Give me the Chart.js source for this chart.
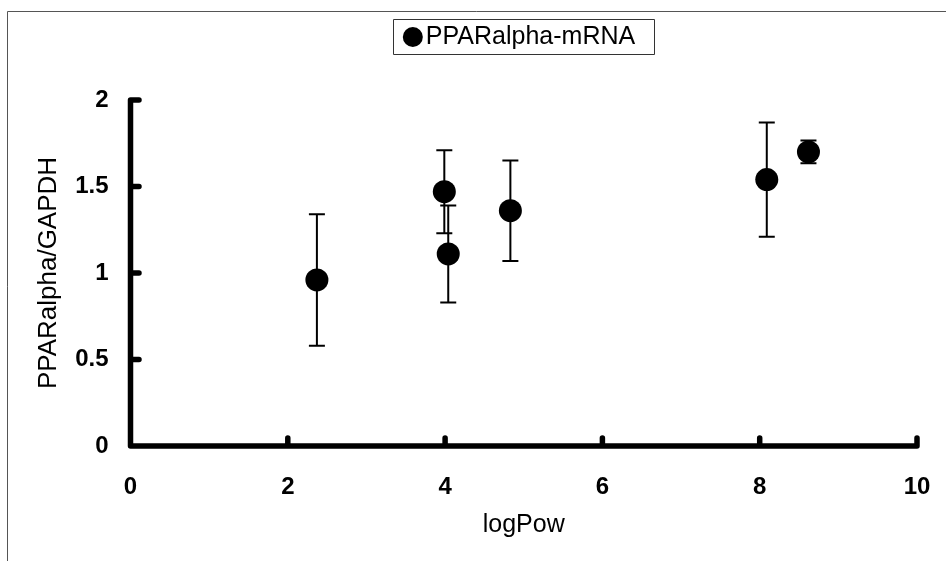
<!DOCTYPE html>
<html>
<head>
<meta charset="utf-8">
<script src="https://cdn.jsdelivr.net/npm/chart.js@4.4.1/dist/chart.umd.min.js"></script>
<style>
  html, body { margin: 0; padding: 0; background: #fff; }
  #wrap { width: 946px; height: 561px; position: relative; }
</style>
</head>
<body>
<div id="wrap"><canvas id="chart"></canvas></div>
<script>
// Data
const LOG_POW = [2.37, 3.99, 4.04, 4.83, 8.09, 8.62];
const RATIO = [0.96, 1.47, 1.11, 1.36, 1.54, 1.70];
const SD = [0.38, 0.24, 0.28, 0.29, 0.33, 0.066];
const X_TICKS = [0, 2, 4, 6, 8, 10];
const Y_TICKS = [0, 0.5, 1, 1.5, 2];
const SERIES_LABEL = 'PPARalpha-mRNA';
const X_TITLE = 'logPow';
const Y_TITLE = 'PPARalpha/GAPDH';

const FONT = "'Liberation Sans', Arial, sans-serif";

// push the plot below the legend (legend height override)
const legendSpacer = {
  id: 'legendSpacer',
  beforeInit(chart) {
    const lg = chart.legend;
    const origFit = lg.fit;
    lg.fit = function () {
      origFit.call(this);
      this.height = 85.5;
    };
  }
};

const decorations = {
  id: 'decorations',
  beforeDatasetsDraw(chart) {
    const { ctx, scales: { x, y } } = chart;
    ctx.save();
    ctx.strokeStyle = '#000';
    ctx.lineWidth = 2;
    LOG_POW.forEach((v, i) => {
      const px = x.getPixelForValue(v);
      const top = y.getPixelForValue(RATIO[i] + SD[i]);
      const bot = y.getPixelForValue(RATIO[i] - SD[i]);
      ctx.beginPath();
      ctx.moveTo(px, top); ctx.lineTo(px, bot);
      ctx.moveTo(px - 8, top); ctx.lineTo(px + 8, top);
      ctx.moveTo(px - 8, bot); ctx.lineTo(px + 8, bot);
      ctx.stroke();
    });
    ctx.restore();
  },
  afterDraw(chart) {
    const { ctx, chartArea, scales: { x, y } } = chart;
    const left = chartArea.left;
    const bottom = chartArea.bottom;
    ctx.save();

    // axes with inward ticks
    ctx.strokeStyle = '#000';
    ctx.lineWidth = 5.5;
    ctx.lineCap = 'round';
    ctx.lineJoin = 'round';
    ctx.beginPath();
    ctx.moveTo(left, y.getPixelForValue(Y_TICKS[Y_TICKS.length - 1]));
    ctx.lineTo(left, bottom);
    ctx.lineTo(x.getPixelForValue(X_TICKS[X_TICKS.length - 1]), bottom);
    Y_TICKS.slice(1).forEach(v => {
      const py = y.getPixelForValue(v);
      ctx.moveTo(left, py); ctx.lineTo(left + 8.5, py);
    });
    X_TICKS.slice(1).forEach(v => {
      const px = x.getPixelForValue(v);
      ctx.moveTo(px, bottom); ctx.lineTo(px, bottom - 8);
    });
    ctx.stroke();

    // legend frame
    const hb = chart.legend.legendHitBoxes[0];
    if (hb) {
      ctx.lineWidth = 1;
      ctx.lineCap = 'butt';
      ctx.strokeStyle = '#333';
      ctx.strokeRect(Math.round(hb.left - 19.5) + 0.5, Math.round(hb.top - 5.5) + 0.5,
        261, 35);
    }

    // outer picture frame (top and left only)
    ctx.strokeStyle = '#555';
    ctx.lineWidth = 1;
    ctx.beginPath();
    ctx.moveTo(7.5, 561); ctx.lineTo(7.5, 11.5); ctx.lineTo(946, 11.5);
    ctx.stroke();
    ctx.restore();
  }
};

new Chart(document.getElementById('chart'), {
  type: 'scatter',
  data: {
    datasets: [{
      label: SERIES_LABEL,
      data: LOG_POW.map((v, i) => ({ x: v, y: RATIO[i] })),
      backgroundColor: '#000',
      borderColor: '#000',
      borderWidth: 0,
      pointRadius: 11.5,
      pointHoverRadius: 11.5
    }]
  },
  options: {
    responsive: true,
    maintainAspectRatio: false,
    animation: false,
    events: [],
    layout: { padding: { top: 14.5, left: 0, right: 29, bottom: 0 } },
    plugins: {
      tooltip: { enabled: false },
      legend: {
        position: 'top',
        fullSize: false,
        labels: {
          usePointStyle: true,
          pointStyle: 'circle',
          boxWidth: 1,
          boxHeight: 14.14,
          padding: 10,
          color: '#000',
          font: { family: FONT, size: 25 }
        }
      }
    },
    scales: {
      x: {
        type: 'linear',
        min: 0,
        max: 10,
        afterBuildTicks: s => { s.ticks = X_TICKS.map(v => ({ value: v })); },
        afterFit: s => { s.height = 115; s.paddingLeft = 0; s.paddingRight = 0; },
        grid: { display: false, drawTicks: false },
        border: { display: false },
        ticks: {
          color: '#000',
          padding: 27,
          maxRotation: 0,
          callback: v => String(v),
          font: { family: FONT, size: 24, weight: 'bold' }
        },
        title: {
          display: true,
          text: X_TITLE,
          color: '#000',
          padding: { top: 0, bottom: 21 },
          font: { family: FONT, size: 25 }
        }
      },
      y: {
        type: 'linear',
        min: 0,
        max: 2,
        afterBuildTicks: s => { s.ticks = Y_TICKS.map(v => ({ value: v })); },
        afterFit: s => { s.width = 130.5; },
        grid: { display: false, drawTicks: false },
        border: { display: false },
        ticks: {
          color: '#000',
          padding: 22,
          callback: v => String(v),
          font: { family: FONT, size: 24, weight: 'bold' }
        },
        title: {
          display: true,
          text: Y_TITLE,
          color: '#000',
          padding: { top: 33, bottom: 0 },
          font: { family: FONT, size: 26 }
        }
      }
    }
  },
  plugins: [legendSpacer, decorations]
});
</script>
</body>
</html>
